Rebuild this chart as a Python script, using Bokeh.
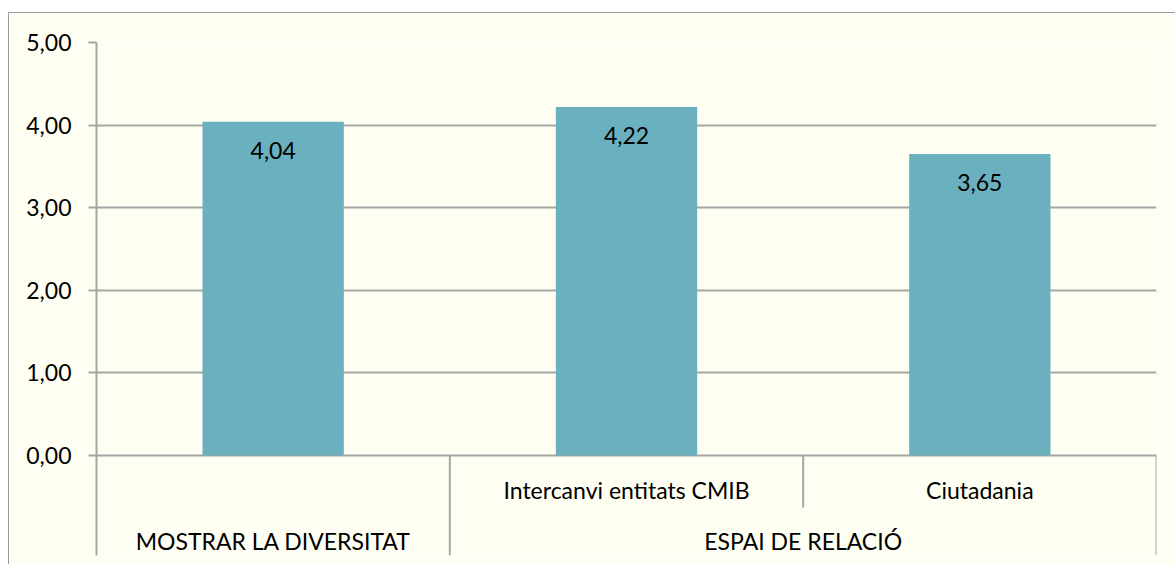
from bokeh.plotting import figure
from bokeh.models import FixedTicker, ColumnDataSource, Range1d
from bokeh.core.properties import value
from bokeh.embed import file_html
from bokeh.resources import INLINE

# ---- data ----
groups = ["MOSTRAR LA DIVERSITAT", "ESPAI DE RELACIÓ", "ESPAI DE RELACIÓ"]
subcats = ["", "Intercanvi entitats CMIB", "Ciutadania"]
values = [4.04, 4.22, 3.65]
value_labels = ["4,04", "4,22", "3,65"]
y_ticks = [0, 1, 2, 3, 4, 5]
y_tick_labels = ["0,00", "1,00", "2,00", "3,00", "4,00", "5,00"]

FONT = "Lato"
BG = "#FEFEF2"
GRID = "#A6A6A6"
BAR = "#6BB0BE"
FS = "23px"

n = len(values)
xs = [i + 0.5 for i in range(n)]

p = figure(width=1167, height=552, output_backend="svg", toolbar_location=None,
           x_range=Range1d(0, n), y_range=Range1d(-1.21, 5),
           min_border_left=87, min_border_right=20, min_border_top=29, min_border_bottom=10,
           x_axis_type=None)
p.background_fill_color = BG
p.border_fill_color = BG
p.outline_line_color = None
p.styles = {"margin-left": "8px", "margin-top": "12px",
            "border-top": "1px solid #9a9a9a", "border-left": "1px solid #9a9a9a"}

p.xgrid.visible = False
p.ygrid.ticker = FixedTicker(ticks=y_ticks)
p.ygrid.grid_line_color = GRID
p.ygrid.grid_line_width = 2

ax = p.yaxis[0]
ax.ticker = FixedTicker(ticks=y_ticks)
ax.major_label_overrides = {t: l for t, l in zip(y_ticks, y_tick_labels)}
ax.major_tick_out = 8
ax.major_tick_in = 0
ax.minor_tick_out = 0
ax.minor_tick_in = 0
ax.major_tick_line_color = GRID
ax.major_tick_line_width = 2
ax.axis_line_color = GRID
ax.axis_line_width = 2
ax.major_label_standoff = 17
ax.major_label_text_font = FONT
ax.major_label_text_font_size = FS
ax.major_label_text_color = "#000000"

src = ColumnDataSource(dict(x=xs, top=values, lab=value_labels))
p.vbar(x="x", top="top", bottom=0, width=0.4, source=src, fill_color=BAR, line_color=None)
p.text(x="x", y="top", text="lab", source=src, text_align="center", text_baseline="top",
       y_offset=20, text_font=value(FONT), text_font_size=FS, text_color="#000000")

# ---- multi-level category axis ----
sub_x = [xs[i] for i in range(n) if subcats[i]]
sub_t = [subcats[i] for i in range(n) if subcats[i]]
p.text(x=sub_x, y=[-0.42] * len(sub_x), text=sub_t, text_align="center", text_baseline="middle",
       text_font=value(FONT), text_font_size=FS, text_color="#000000")

spans = []
start = 0
for i in range(1, n + 1):
    if i == n or groups[i] != groups[start]:
        spans.append((groups[start], start, i))
        start = i
p.text(x=[(a + b) / 2 for _, a, b in spans], y=[-1.04] * len(spans), text=[g for g, _, _ in spans],
       text_align="center", text_baseline="middle",
       text_font=value(FONT), text_font_size=FS, text_color="#000000")

gx = sorted(set([b for _, a, b in spans] + [a for _, a, b in spans]))
gx = [g for g in gx if g > 0]
p.segment(x0=gx, y0=[0] * len(gx), x1=gx, y1=[-1.21] * len(gx), line_color=GRID, line_width=2)
sx = [i for i in range(1, n) if groups[i] == groups[i - 1]]
p.segment(x0=sx, y0=[0] * len(sx), x1=sx, y1=[-0.63] * len(sx), line_color=GRID, line_width=2)

open("out.html", "w").write(file_html(p, INLINE))
